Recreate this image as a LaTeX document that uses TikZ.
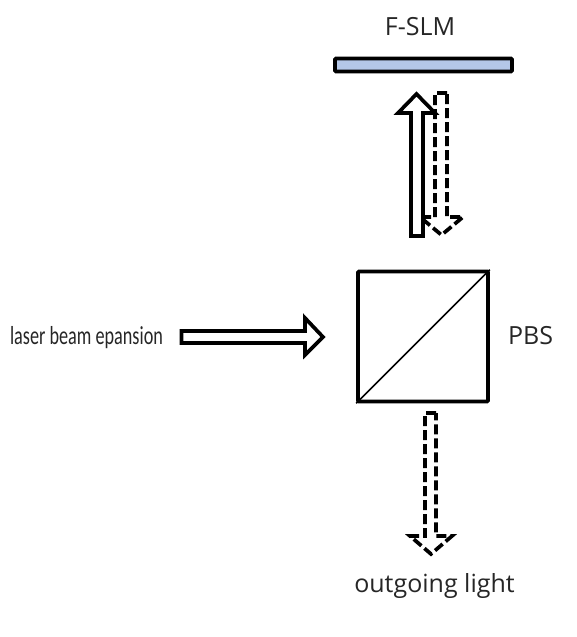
\documentclass[tikz,border=0pt]{standalone}
\usepackage{fontspec}
\setmainfont{Open Sans}
\newfontfamily\narrowfont[FakeStretch=0.70]{Carlito}
\tikzset{
  outline/.style={draw=black,line width=3.7pt,line join=miter},
  dashoutline/.style={draw=black,line width=3.7pt,dash pattern=on 10pt off 4pt},
  lbl/.style={inner sep=0pt,text=black!85,font=\fontsize{25pt}{29pt}\selectfont}
}
\begin{document}
\begin{tikzpicture}[x=1pt,y=-1pt]
\useasboundingbox (0,0) rectangle (576,637);
% F-SLM plate
\node[lbl] (slmlabel) at (420,27) {F-SLM};
\node[draw=black,line width=3.7pt,fill={rgb,255:red,180;green,199;blue,231},rounded corners=1pt,minimum width=177pt,minimum height=13pt,inner sep=0pt,anchor=center] (slm) at (423.5,65) {};
% PBS cube
\node[draw=black,line width=3.7pt,rounded corners=1pt,minimum width=130pt,minimum height=130pt,inner sep=0pt] (pbs) at (423,336.5) {};
\draw[line width=1.7pt] (pbs.south west) -- (pbs.north east);
\node[lbl] (pbslabel) at (530.5,336) {PBS};
\node[lbl,font=\narrowfont\fontsize{26pt}{30pt}\selectfont] (laser) at (86.5,338) {laser beam epansion};
\node[lbl] (out) at (434.5,586) {outgoing light};
% up arrow
\draw[outline,fill=white] (411,236) -- (411,113) -- (398,113) -- (416.5,94) -- (435,113) -- (423,113) -- (423,236) -- cycle;
% dashed reflected beam
\draw[dashoutline] (447,93) -- (435,93) -- (435,217) -- (420,217) -- (441.5,235) -- (463,217) -- (447,217) -- cycle;
% input arrow
\draw[outline,fill=white] (181.5,331) -- (305,331) -- (305,318) -- (323,337) -- (305,355) -- (305,343) -- (181.5,343) -- cycle;
% outgoing beam
\draw[dashoutline] (436,413) -- (425,413) -- (425,536) -- (410,536) -- (431,554) -- (452,536) -- (436,536) -- cycle;
\end{tikzpicture}
\end{document}
